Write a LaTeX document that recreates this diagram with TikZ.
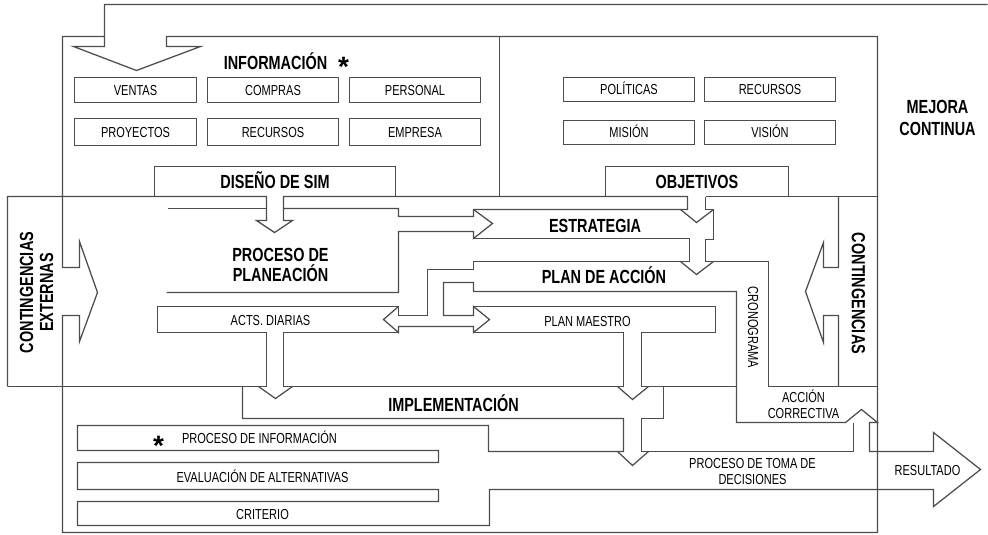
\documentclass[tikz,border=0pt]{standalone}
\usepackage{fontspec}
\setmainfont[FakeStretch=0.76]{Liberation Sans}
\newfontfamily\astfont{Liberation Sans}
\begin{document}
\begin{tikzpicture}[x=1pt,y=-1pt]
\tikzset{
  ln/.style={draw=black!70, line width=1.25pt, line join=miter},
  sm/.style={font=\fontsize{14.5}{15.5}\selectfont, inner sep=0pt, text height=10.4pt, text depth=0pt},
  smm/.style={font=\fontsize{14.5}{15.5}\selectfont, inner sep=0pt, align=center},
  bg/.style={font=\bfseries\fontsize{19}{20}\selectfont, inner sep=0pt, text height=13.6pt, text depth=0pt},
  bgm/.style={font=\bfseries\fontsize{19}{20}\selectfont, inner sep=0pt, align=center},
  box/.style={ln, sm, minimum height=25pt},
  ast/.style={font=\astfont\bfseries\fontsize{28}{28}\selectfont, inner sep=0pt, anchor=base},
}
\useasboundingbox (0,0) rectangle (988,535);
\begin{scope}[shift={(0.5,-0.5)}]
% outer loop and frame
\draw[ln] (987,5) -- (104,5) -- (104,47) -- (73,47) -- (136,71) -- (200,47) -- (166,47) -- (166,37)
  -- (877,37) -- (877,533) -- (62,533) -- (62,316) -- (79,316) -- (79,342) -- (97,293) -- (79,242)
  -- (79,268) -- (62,268) -- (62,37) -- (104,37);
\draw[ln] (499,37) -- (499,197);

% information boxes
\node[box, minimum width=122pt] (ventas) at (135,90.5) {VENTAS};
\node[box, minimum width=131pt] (compras) at (272.5,90.5) {COMPRAS};
\node[box, minimum width=131pt] (personal) at (414.5,90.5) {PERSONAL};
\node[box, minimum width=122pt, minimum height=27pt] (proyectos) at (135,132.5) {PROYECTOS};
\node[box, minimum width=131pt, minimum height=27pt] (recursos) at (272.5,132.5) {RECURSOS};
\node[box, minimum width=131pt, minimum height=27pt] (empresa) at (414.5,132.5) {EMPRESA};
\node[bg] (info) at (275,63.5) {INFORMACIÓN};
\node[ast] (ast1) at (343,77) {*};

% objective boxes
\node[box, minimum width=131pt, minimum height=24pt] (politicas) at (628.5,90) {POLÍTICAS};
\node[box, minimum width=131pt, minimum height=24pt] (recursos2) at (769.5,90) {RECURSOS};
\node[box, minimum width=131pt, minimum height=24pt] (mision) at (628.5,133) {MISIÓN};
\node[box, minimum width=131pt, minimum height=24pt] (vision) at (769.5,133) {VISIÓN};
\node[bgm, font=\bfseries\fontsize{19}{22}\selectfont] (mejora) at (937,118.5) {MEJORA\\CONTINUA};

% Diseño de SIM and Objetivos boxes (open at bottom)
\node[bg, minimum width=241pt, minimum height=30pt] (dsim) at (274.5,182) {DISEÑO DE SIM};
\draw[ln] (dsim.south west) -- (dsim.north west) -- (dsim.north east) -- (dsim.south east);
\node[bg, minimum width=183pt, minimum height=30pt] (obj) at (696.5,182) {OBJETIVOS};
\draw[ln] (obj.south west) -- (obj.north west) -- (obj.north east) -- (obj.south east);

% middle band top, Diseño arrow, Proceso de planeación, Estrategia
\draw[ln] (7,387) -- (7,197) -- (266,197) -- (266,221) -- (256,221) -- (274,233) -- (292,221) -- (283,221)
  -- (283,197) -- (687,197) -- (687,210) -- (473,210) -- (473,217) -- (398,217) -- (398,209) -- (283,209);
\draw[ln] (266,209) -- (167,209);
\draw[ln] (473,210) -- (492,224) -- (473,239) -- (473,232) -- (398,232) -- (398,293) -- (166,293);
\draw[ln] (473,239) -- (689,239) -- (689,262) -- (473,262) -- (473,270) -- (427,270) -- (427,316)
  -- (398,316) -- (398,307) -- (157,307) -- (157,333) -- (266,333) -- (266,387) -- (7,387);
\draw[ln] (398,333) -- (283,333) -- (283,387) -- (623,387) -- (623,333) -- (473,333);
\draw[ln] (398,307) -- (383,320) -- (398,333) -- (398,327) -- (473,327) -- (473,333) -- (489,320)
  -- (473,307) -- (473,316) -- (443,316) -- (443,283) -- (473,283) -- (473,292) -- (736,292) -- (736,423)
  -- (845,423) -- (861,410) -- (877,423) -- (869,423) -- (869,452) -- (933,452) -- (933,433) -- (980,470)
  -- (933,507) -- (933,490) -- (489,490) -- (489,526) -- (77,526) -- (77,502) -- (438,502) -- (438,490)
  -- (77,490) -- (77,463) -- (438,463) -- (438,451) -- (77,451) -- (77,426) -- (488,426) -- (488,452)
  -- (623,452) -- (623,419) -- (242,419) -- (242,387);
\draw[ln] (473,307) -- (715,307) -- (715,333) -- (641,333) -- (641,387) -- (736,387);
\draw[ln] (258,387) -- (275,399) -- (292,387);
\draw[ln] (617,387) -- (632,400) -- (648,387);
\draw[ln] (617,452) -- (632,466) -- (648,452);
\draw[ln] (663,387) -- (663,419) -- (641,419) -- (641,452) -- (853,452) -- (853,423);
% Objetivos shaft
\draw[ln] (705,197) -- (705,210) -- (713,210) -- (713,240) -- (705,240) -- (705,262) -- (768,262)
  -- (768,387) -- (877,387);
\draw[ln] (680,210) -- (696,223) -- (713,210);
\draw[ln] (680,262) -- (696,275) -- (713,262);
\draw[ln] (705,197) -- (877,197);
% Contingencias (right)
\draw[ln] (838,197) -- (838,268) -- (823,268) -- (823,243) -- (805,292) -- (823,343) -- (823,316)
  -- (838,316) -- (838,387);

% labels
\node[bgm, rotate=90] (context) at (36,293) {CONTINGENCIAS\\EXTERNAS};
\node[bgm, rotate=-90] (contr) at (858,294) {CONTINGENCIAS};
\node[bgm] (planea) at (280,265) {PROCESO DE\\PLANEACIÓN};
\node[bg] (estr) at (594.5,226) {ESTRATEGIA};
\node[bg] (plan) at (603.5,277.5) {PLAN DE ACCIÓN};
\node[sm] (acts) at (270,321) {ACTS. DIARIAS};
\node[sm] (maestro) at (587,321.5) {PLAN MAESTRO};
\node[smm, rotate=-90] (crono) at (752.5,328) {CRONOGRAMA};
\node[bg] (impl) at (453,405) {IMPLEMENTACIÓN};
\node[sm] (pinfo) at (259,439) {PROCESO DE INFORMACIÓN};
\node[ast] (ast2) at (158,456) {*};
\node[sm] (eval) at (262,478) {EVALUACIÓN DE ALTERNATIVAS};
\node[sm] (crit) at (262,515) {CRITERIO};
\node[smm] (accion) at (803,405) {ACCIÓN\\CORRECTIVA};
\node[smm] (toma) at (752,472) {PROCESO DE TOMA DE\\DECISIONES};
\node[sm] (result) at (927,471) {RESULTADO};
\end{scope}
\end{tikzpicture}
\end{document}
